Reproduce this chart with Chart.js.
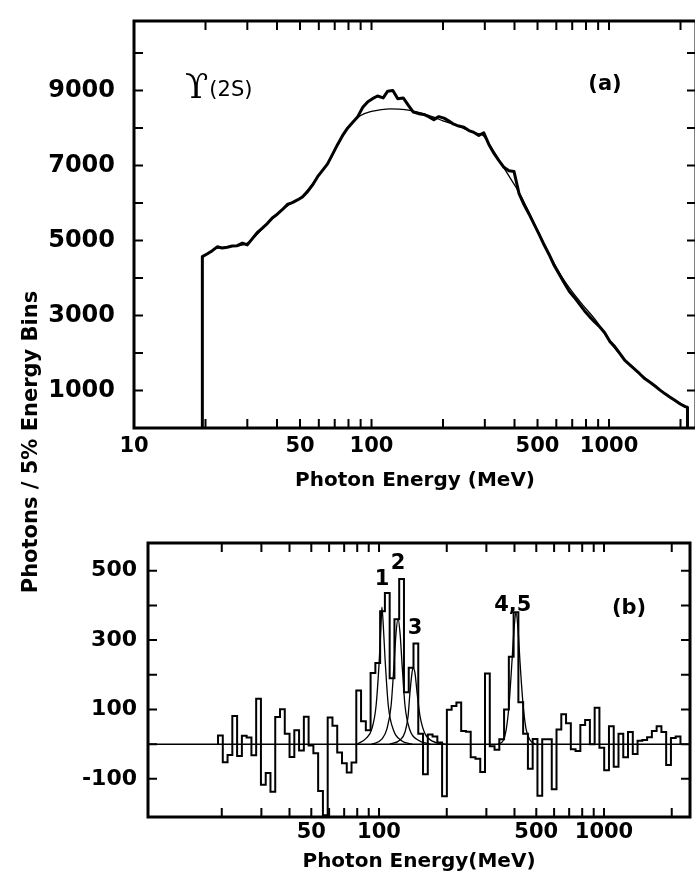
<!DOCTYPE html>
<html>
<head>
<meta charset="utf-8">
<script src="https://cdn.jsdelivr.net/npm/chart.js@4.4.1/dist/chart.umd.min.js"></script>
<style>
  html, body { margin: 0; padding: 0; background: #fff; overflow: hidden; width: 695px; height: 881px; }
  #wrap { position: relative; width: 695px; height: 881px; overflow: hidden; }
  #c1 { position: absolute; left: 0; top: 0; }
  #c2 { position: absolute; left: 0; top: 500px; }
  #ytitle { position: absolute; left: -168px; top: 428px; width: 400px; height: 28px; line-height: 28px;
            text-align: center; transform: rotate(-90deg); font: bold 21px "DejaVu Sans", sans-serif; color: #000; white-space: nowrap; }
</style>
</head>
<body>
<div id="wrap">
  <canvas id="c1" width="700" height="500"></canvas>
  <canvas id="c2" width="695" height="381"></canvas>
  <div id="ytitle">Photons / 5% Energy Bins</div>
</div>
<script>
// ---------------- Panel (a): photon spectrum ----------------
const topEnergy = [19.4, 19.4, 20.3, 21.3, 22.4, 23.5, 24.7, 25.9, 27.2, 28.6, 30.0,
  31.5, 33.0, 34.7, 36.4, 38.2, 40.1, 42.1, 44.2, 46.4, 48.8,
  51.2, 53.8, 56.5, 59.3, 62.2, 65.3, 68.6, 72.0, 75.6, 79.4,
  83.4, 87.5, 91.9, 96.5, 101, 106, 112, 117, 123, 129,
  136, 143, 150, 158, 166, 174, 183, 192, 202, 212,
  222, 233, 245, 257, 270, 283, 297, 312, 328, 344,
  361, 379, 398, 418, 439, 461, 484, 508, 534, 560,
  588, 618, 649, 681, 715, 751, 789, 828, 870, 913,
  959, 1007, 1057, 1110, 1166, 1224, 1285, 1349, 1417, 1488,
  1562, 1640, 1722, 1808, 1899, 1994, 2094, 2140, 2140];
const topCounts = [0, 4570, 4640, 4720, 4830, 4800, 4820, 4850, 4860, 4930, 4880,
  5050, 5210, 5330, 5450, 5600, 5700, 5820, 5960, 6010, 6080,
  6160, 6300, 6480, 6700, 6870, 7040, 7300, 7560, 7800, 8000,
  8150, 8300, 8550, 8700, 8780, 8850, 8800, 8980, 9000, 8780,
  8800, 8600, 8420, 8380, 8360, 8300, 8220, 8300, 8260, 8180,
  8100, 8050, 8020, 7930, 7880, 7800, 7870, 7560, 7320, 7130,
  6950, 6860, 6840, 6250, 5950, 5700, 5430, 5160, 4870, 4620,
  4330, 4090, 3860, 3640, 3480, 3300, 3120, 2970, 2830, 2700,
  2540, 2310, 2170, 1990, 1800, 1680, 1560, 1440, 1310, 1220,
  1120, 1010, 910, 820, 730, 640, 570, 550, 0];
const topFitEnergy = [19.4, 22, 25, 30, 35, 40, 45, 50, 55, 60,
  65, 70, 75, 80, 90, 100, 110, 120, 130, 145,
  165, 180, 200, 225, 250, 275, 295, 325, 350, 372,
  400, 428, 465, 512, 564, 640, 755, 890, 1010, 1190,
  1445, 1755, 2130];
const topFitCounts = [4560, 4780, 4830, 4930, 5330, 5690, 5950, 6130, 6420, 6740,
  7030, 7400, 7760, 8020, 8330, 8440, 8490, 8510, 8500, 8466,
  8380, 8300, 8190, 8080, 7960, 7860, 7800, 7400, 7070, 6800,
  6480, 6160, 5690, 5140, 4600, 3986, 3368, 2828, 2292, 1752,
  1291, 882, 554];

const topXLabels = [10, 50, 100, 500, 1000];
const topXTicks = [20, 30, 40, 50, 60, 70, 80, 90, 100, 200, 300, 400, 500, 600, 700, 800, 900, 1000, 2000];
const topYLabels = [1000, 3000, 5000, 7000, 9000];
const topYTicks = [1000, 2000, 3000, 4000, 5000, 6000, 7000, 8000, 9000, 10000];

// ---------------- Panel (b): background-subtracted spectrum ----------------
const binEdges = [19.25, 20.21, 21.22, 22.28, 23.40, 24.57, 25.80, 27.09, 28.44, 29.86,
  31.36, 32.92, 34.57, 36.30, 38.11, 40.02, 42.02, 44.12, 46.33, 48.64,
  51.08, 53.63, 56.31, 59.13, 62.09, 65.19, 68.45, 71.87, 75.47, 79.24,
  83.20, 87.36, 91.73, 96.32, 101.13, 106.19, 111.50, 117.07, 122.93, 129.07,
  135.53, 142.30, 149.42, 156.89, 164.73, 172.97, 181.62, 190.70, 200.24, 210.25,
  220.76, 231.80, 243.39, 255.56, 268.34, 281.76, 295.84, 310.64, 326.17, 342.48,
  359.60, 377.58, 396.46, 416.28, 437.10, 458.95, 481.90, 506.00, 531.30, 557.86,
  585.75, 615.04, 645.79, 678.08, 711.99, 747.59, 784.97, 824.21, 865.42, 908.70,
  954.13, 1001.84, 1051.93, 1104.53, 1159.75, 1217.74, 1278.63, 1342.56, 1409.69, 1480.17,
  1554.18, 1631.89, 1713.49, 1799.16, 1889.12, 1983.58, 2082.76, 2186.89];
const binCounts = [25, -52, -31, 81, -34, 24, 19, -32, 131, -117,
  -83, -137, 78, 101, 30, -37, 40, -18, 79, -4,
  -26, -135, -205, 77, 53, -24, -55, -82, -53, 155,
  66, 40, 205, 234, 383, 436, 190, 360, 476, 150,
  220, 290, 30, -87, 28, 22, 5, -150, 99, 110,
  120, 38, 36, -38, -42, -80, 204, -6, -16, 14,
  100, 252, 380, 121, 30, -71, 15, -149, 14, 14,
  -130, 42, 86, 60, -15, -20, 55, 70, 0, 105,
  -10, -75, 52, -65, 30, -38, 35, -28, 10, 12,
  20, 38, 52, 35, -60, 18, 22];

const fit1Energy = [80, 88, 93, 97, 100, 102, 103, 104.5, 106.5, 110, 116, 126, 140];
const fit1Counts = [0, 18, 45, 110, 230, 340, 395, 340, 240, 110, 40, 10, 0];
const fit2Energy = [93.1, 103.1, 108.5, 113.1, 116.6, 119.0, 121.5, 124.0, 126.6, 130.5, 137.3, 149.0, 168.5];
const fit2Counts = [0, 15, 45, 110, 230, 320, 362, 320, 230, 110, 40, 12, 0];
const fit3Energy = [111.9, 124.0, 130.5, 134.6, 137.3, 140.1, 141.6, 144.5, 147.5, 152.2, 160.1, 173.6, 196.6];
const fit3Counts = [0, 12, 35, 80, 150, 205, 220, 205, 150, 80, 30, 8, 0];
const fit45Energy = [338, 356, 367, 378, 390, 398, 406, 415, 423, 436, 450, 469, 494];
const fit45Counts = [0, 10, 40, 110, 240, 330, 380, 330, 240, 120, 45, 12, 0];
const baseEnergy = [9.4, 2411];
const baseCounts = [0, 0];

const botXLabels = [50, 100, 500, 1000];
const botXTicks = [20, 30, 40, 50, 60, 70, 80, 90, 100, 200, 300, 400, 500, 600, 700, 800, 900, 1000, 2000];
const botYLabels = [-100, 100, 300, 500];
const botYTicks = [-100, 0, 100, 200, 300, 400, 500];

// ---------------- helpers ----------------
Chart.defaults.font.family = '"DejaVu Sans", sans-serif';
Chart.defaults.font.weight = 'bold';
Chart.defaults.color = '#000';

function xy(xs, ys) { return xs.map((x, i) => ({ x: x, y: ys[i] })); }
function histPoints(edges, counts) {
  const pts = [{ x: edges[0], y: 0 }];
  counts.forEach((c, i) => pts.push({ x: edges[i], y: c }));
  pts.push({ x: edges[counts.length], y: counts[counts.length - 1] });
  pts.push({ x: edges[counts.length], y: 0 });
  return pts;
}

const frameTicks = {
  id: 'frameTicks',
  afterDatasetsDraw(chart, args, o) {
    const { ctx, chartArea: a } = chart;
    const xs = chart.scales.x, ys = chart.scales.y;
    const L = o.tickLen;
    ctx.save();
    ctx.strokeStyle = '#000';
    ctx.lineWidth = o.tickWidth;
    ctx.beginPath();
    o.xTicks.forEach(v => {
      const p = xs.getPixelForValue(v);
      ctx.moveTo(p, a.bottom); ctx.lineTo(p, a.bottom - L);
      ctx.moveTo(p, a.top); ctx.lineTo(p, a.top + L);
    });
    o.yTicks.forEach(v => {
      const p = ys.getPixelForValue(v);
      ctx.moveTo(a.left, p); ctx.lineTo(a.left + L, p);
      ctx.moveTo(a.right, p); ctx.lineTo(a.right - L, p);
    });
    ctx.stroke();
    ctx.lineWidth = o.frameWidth;
    ctx.strokeRect(a.left, a.top, a.right - a.left, a.bottom - a.top);
    ctx.fillStyle = '#000';
    ctx.textBaseline = 'middle';
    let lastEnd = 0;
    o.texts.forEach(t => {
      ctx.font = t.font;
      let px, py;
      if (t.follow) { px = lastEnd + 1; } else { px = xs.getPixelForValue(t.x); }
      py = ys.getPixelForValue(t.y);
      ctx.textAlign = t.align || 'center';
      ctx.fillText(t.text, px, py);
      const w = ctx.measureText(t.text).width;
      lastEnd = (t.align === 'left' || t.follow) ? px + w : px + w / 2;
    });
    ctx.restore();
  }
};

function xAxis(min, max, labels, h, labelPad, title, titlePad) {
  return {
    type: 'logarithmic', min: min, max: max, bounds: 'data',
    grid: { display: false, drawTicks: false }, border: { display: false },
    afterBuildTicks: s => { s.ticks = labels.map(v => ({ value: v })); },
    afterFit: s => { s.height = h; s.paddingLeft = 0; s.paddingRight = 0; s.paddingTop = 0; s.paddingBottom = 0; },
    ticks: { autoSkip: false, maxRotation: 0, minRotation: 0, padding: labelPad,
             font: { size: 21, weight: 'bold' }, color: '#000', callback: v => String(v) },
    title: { display: true, text: title, font: { size: 20, weight: 'bold' }, color: '#000', padding: { top: 0, bottom: titlePad } }
  };
}
function yAxis(min, max, labels, w, pad, size) {
  return {
    type: 'linear', min: min, max: max, bounds: 'data',
    grid: { display: false, drawTicks: false }, border: { display: false },
    afterBuildTicks: s => { s.ticks = labels.map(v => ({ value: v })); },
    afterFit: s => { s.width = w; s.paddingLeft = 0; s.paddingRight = 0; s.paddingTop = 0; s.paddingBottom = 0; },
    ticks: { autoSkip: false, padding: pad, font: { size: size, weight: 'bold' }, color: '#000', callback: v => String(v) }
  };
}
const lineDs = (data, width, extra) => Object.assign({
  data: data, showLine: true, borderColor: '#000', borderWidth: width,
  pointRadius: 0, tension: 0, borderJoinStyle: 'round', borderCapStyle: 'round'
}, extra || {});

const annFont = 'bold 21px "DejaVu Sans", sans-serif';

// ---------------- chart (a) ----------------
new Chart(document.getElementById('c1'), {
  type: 'scatter',
  data: { datasets: [
    lineDs(xy(topEnergy, topCounts), 3),
    lineDs(xy(topFitEnergy, topFitCounts), 1.3, { cubicInterpolationMode: 'monotone' })
  ]},
  options: {
    responsive: false, animation: false, events: [],
    layout: { padding: { left: 0, top: 21, right: 4, bottom: 0 } },
    plugins: {
      legend: { display: false }, tooltip: { enabled: false },
      frameTicks: {
        tickLen: 9, tickWidth: 2, frameWidth: 3, xTicks: topXTicks, yTicks: topYTicks,
        texts: [
          { text: 'ϒ', x: 16.4, y: 9040, align: 'left', font: '34px "DejaVu Serif", serif' },
          { text: '(2S)', follow: true, y: 8990, align: 'left', font: '21px "DejaVu Sans", sans-serif' },
          { text: '(a)', x: 962, y: 9150, font: annFont }
        ]
      }
    },
    scales: {
      x: xAxis(10, 2324, topXLabels, 72, 6, 'Photon Energy (MeV)', 7),
      y: yAxis(0, 10850, topYLabels, 134, 19, 24)
    }
  },
  plugins: [frameTicks]
});

// ---------------- chart (b) ----------------
new Chart(document.getElementById('c2'), {
  type: 'scatter',
  data: { datasets: [
    lineDs(xy(baseEnergy, baseCounts), 1.5),
    lineDs(xy(fit1Energy, fit1Counts), 1.3, { cubicInterpolationMode: 'monotone' }),
    lineDs(xy(fit2Energy, fit2Counts), 1.3, { cubicInterpolationMode: 'monotone' }),
    lineDs(xy(fit3Energy, fit3Counts), 1.3, { cubicInterpolationMode: 'monotone' }),
    lineDs(xy(fit45Energy, fit45Counts), 1.3, { cubicInterpolationMode: 'monotone' }),
    lineDs(histPoints(binEdges, binCounts), 2, { stepped: 'before', borderJoinStyle: 'miter', borderCapStyle: 'butt' })
  ]},
  options: {
    responsive: false, animation: false, events: [],
    layout: { padding: { left: 0, top: 43, right: 5, bottom: 0 } },
    plugins: {
      legend: { display: false }, tooltip: { enabled: false },
      frameTicks: {
        tickLen: 9, tickWidth: 2, frameWidth: 3, xTicks: botXTicks, yTicks: botYTicks,
        texts: [
          { text: '1', x: 103.1, y: 476, font: annFont },
          { text: '2', x: 121.5, y: 521, font: annFont },
          { text: '3', x: 144.5, y: 333, font: annFont },
          { text: '4,5', x: 393, y: 399, font: annFont },
          { text: '(b)', x: 1292, y: 392, font: annFont }
        ]
      }
    },
    scales: {
      x: xAxis(9.4, 2411, botXLabels, 64, 3, 'Photon Energy(MeV)', 7),
      y: yAxis(-210, 580, botYLabels, 148, 11, 22)
    }
  },
  plugins: [frameTicks]
});
</script>
</body>
</html>
